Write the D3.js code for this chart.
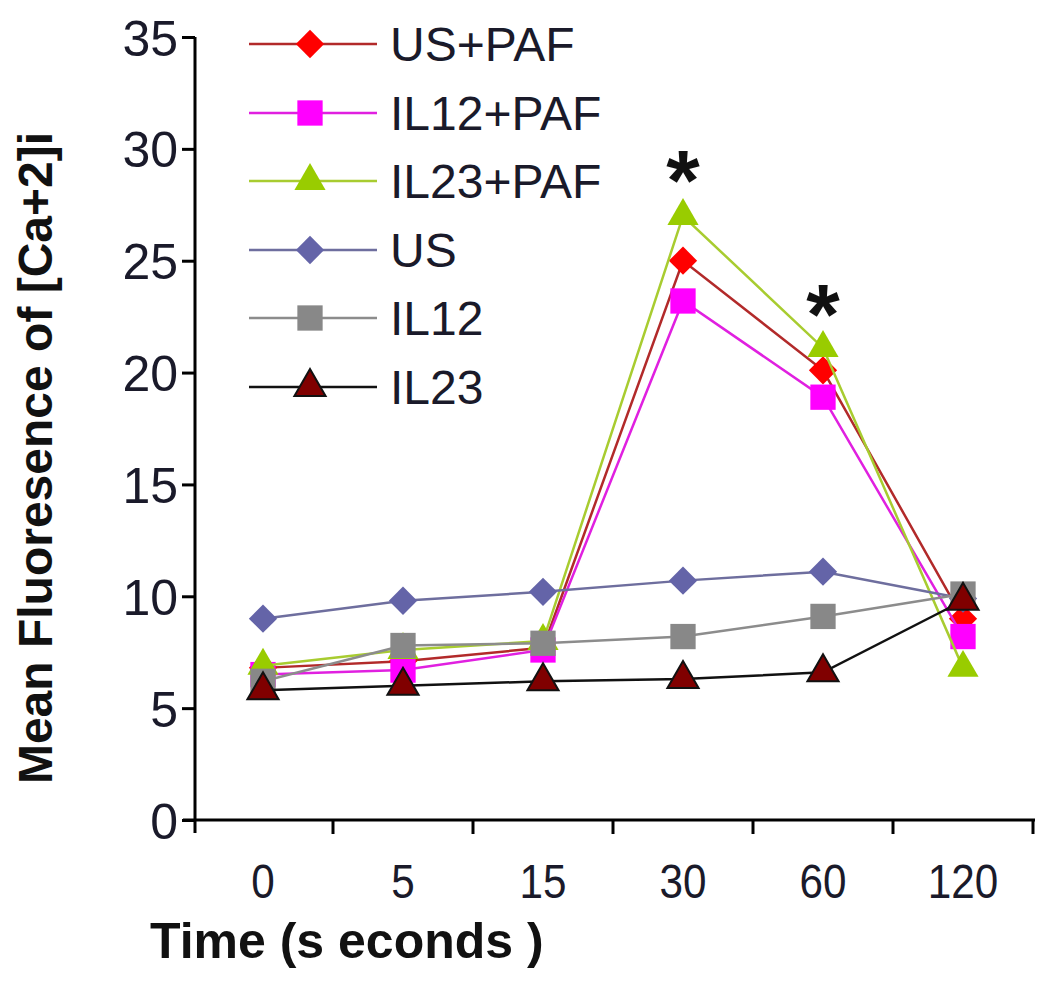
<!DOCTYPE html>
<html><head><meta charset="utf-8">
<script src="https://cdn.jsdelivr.net/npm/d3@7/dist/d3.min.js"></script>
<style>body{margin:0;background:#fff}svg{display:block}</style>
</head><body>
<svg id="c" width="1050" height="986"></svg>
<script>
const categories = ["0","5","15","30","60","120"];
const usPaf   = [6.8, 7.1, 7.7, 25.0, 20.1, 9.0];
const il12Paf = [6.5, 6.7, 7.6, 23.2, 18.9, 8.2];
const il23Paf = [6.9, 7.6, 8.0, 27.0, 21.1, 6.8];
const us      = [9.0, 9.8, 10.2, 10.7, 11.1, 9.9];
const il12    = [6.2, 7.8, 7.9, 8.2, 9.1, 10.1];
const il23    = [5.8, 6.0, 6.2, 6.3, 6.6, 9.8];
const seriesNames = ["US+PAF","IL12+PAF","IL23+PAF","US","IL12","IL23"];
const yTicks = [0,5,10,15,20,25,30,35];
const starCats = ["30","60"];
const starVals = [29.5, 23.5];

const series = [
  {name:seriesNames[0], values:usPaf,   line:"#b22a2a", fill:"#ff0000", stroke:"none", shape:"diamond"},
  {name:seriesNames[1], values:il12Paf, line:"#e020e0", fill:"#ff00ff", stroke:"none", shape:"square"},
  {name:seriesNames[2], values:il23Paf, line:"#a8cc30", fill:"#99cc00", stroke:"none", shape:"triangle"},
  {name:seriesNames[3], values:us,      line:"#6e6e9e", fill:"#6464a8", stroke:"none", shape:"diamond"},
  {name:seriesNames[4], values:il12,    line:"#8c8c8c", fill:"#888888", stroke:"none", shape:"square"},
  {name:seriesNames[5], values:il23,    line:"#111111", fill:"#800000", stroke:"#111", shape:"triangle"}
];

const svg = d3.select("#c");
const x = d3.scaleBand().domain(categories).range([193, 1033]).padding(0);
const y = d3.scaleLinear().domain([0,35]).range([820, 37]);
const font = "'Liberation Sans', Arial, sans-serif";

function symbolPath(shape){
  if(shape==="diamond") return d3.symbol().type(d3.symbolSquare).size(400)();
  if(shape==="square") return d3.symbol().type(d3.symbolSquare).size(640)();
  return d3.symbol().type(d3.symbolTriangle).size(420)();
}
function rot(shape){ return shape==="diamond" ? " rotate(45)" : ""; }

// Y axis
const yAxis = svg.append("g").attr("transform","translate(195,0)")
  .call(d3.axisLeft(y).tickValues(yTicks).tickSize(13).tickPadding(4).tickSizeOuter(0));
yAxis.select(".domain").remove();
yAxis.append("line").attr("x1",0).attr("x2",0).attr("y1",y(35)).attr("y2",833)
  .attr("stroke","#000").attr("stroke-width",3);
yAxis.selectAll(".tick line").attr("stroke","#000").attr("stroke-width",3);
yAxis.selectAll(".tick text").attr("font-family",font).attr("font-size",50)
  .attr("fill","#1a1a2a").attr("dy","0.36em");

// X axis
const xg = svg.append("g");
xg.append("line").attr("x1",183).attr("x2",1035).attr("y1",y(0)).attr("y2",y(0))
  .attr("stroke","#000").attr("stroke-width",3);
const bounds = categories.map(c => x(c)).concat([x(categories[categories.length-1]) + x.bandwidth()]);
xg.selectAll("line.tk").data(bounds.slice(1)).join("line").attr("class","tk")
  .attr("x1",d=>d).attr("x2",d=>d).attr("y1",y(0)).attr("y2",y(0)+14)
  .attr("stroke","#000").attr("stroke-width",3);
xg.selectAll("text.xl").data(categories).join("text").attr("class","xl")
  .attr("x",d=>x(d)+x.bandwidth()/2).attr("y",898)
  .attr("text-anchor","middle").attr("font-family",font).attr("font-size",48)
  .attr("fill","#1a1a2a").attr("transform",d=>{const cx=x(d)+x.bandwidth()/2;return `translate(${cx},0) scale(0.88,1) translate(${-cx},0)`;})
  .text(d=>d);

// Axis titles
svg.append("text").attr("x",150).attr("y",958).attr("font-family",font).attr("font-weight","bold")
  .attr("font-size",50).attr("fill","#111")
  .text("Time (s econds )");
svg.append("text").attr("transform","translate(52,458) rotate(-90)").attr("text-anchor","middle")
  .attr("font-family",font).attr("font-weight","bold").attr("font-size",48).attr("fill","#111")
  .text("Mean Fluoresence of [Ca+2]i");

// Series
const lineGen = d3.line().x((d,i)=>x(categories[i])+x.bandwidth()/2).y(d=>y(d));
series.forEach(s=>{
  const g = svg.append("g");
  g.append("path").attr("d",lineGen(s.values)).attr("fill","none")
    .attr("stroke",s.line).attr("stroke-width",2.5);
  g.selectAll("path.m").data(s.values).join("path").attr("class","m")
    .attr("d",symbolPath(s.shape))
    .attr("transform",(d,i)=>`translate(${x(categories[i])+x.bandwidth()/2},${y(d)})${rot(s.shape)}`)
    .attr("fill",s.fill).attr("stroke",s.stroke).attr("stroke-width",s.stroke==="none"?0:2);
});

// Asterisks
svg.selectAll("text.star").data(starCats).join("text").attr("class","star")
  .attr("x",d=>x(d)+x.bandwidth()/2).attr("y",(d,i)=>y(starVals[i])+50)
  .attr("text-anchor","middle").attr("font-family",font).attr("font-weight","bold")
  .attr("font-size",86).attr("fill","#111").text("*");

// Legend
const legY = [44,113,181,250,318,387];
const lg = svg.append("g");
series.forEach((s,i)=>{
  const g = lg.append("g").attr("transform",`translate(0,${legY[i]})`);
  g.append("line").attr("x1",249).attr("x2",377).attr("y1",0).attr("y2",0)
    .attr("stroke",s.line).attr("stroke-width",2.5);
  g.append("path").attr("d",symbolPath(s.shape))
    .attr("transform",`translate(310,0)${rot(s.shape)}`)
    .attr("fill",s.fill).attr("stroke",s.stroke).attr("stroke-width",s.stroke==="none"?0:2);
  g.append("text").attr("x",390).attr("y",17).attr("font-family",font).attr("font-size",48)
    .attr("fill","#1a1a2a").text(s.name);
});
</script>
</body></html>
